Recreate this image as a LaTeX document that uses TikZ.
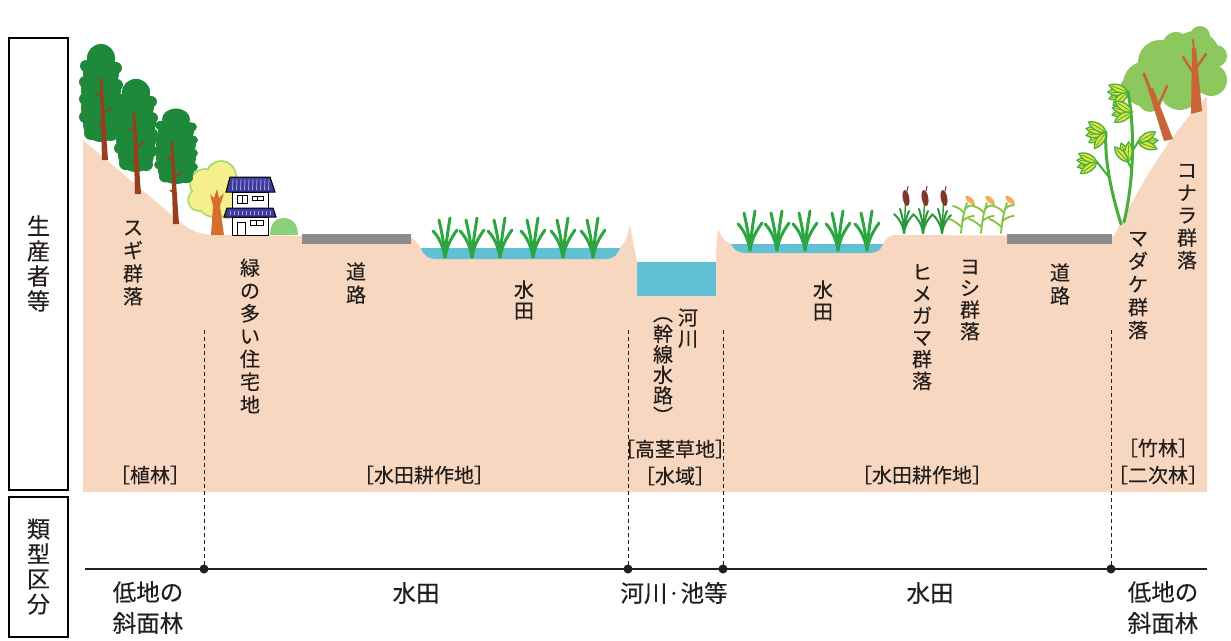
\documentclass[tikz,border=0pt]{standalone}
\usepackage{fontspec}
\setmainfont{Noto Sans CJK JP}[FakeBold=0.3]
\definecolor{ground}{RGB}{247,215,192}
\definecolor{water}{RGB}{98,192,212}
\definecolor{road}{RGB}{140,140,142}
\definecolor{ink}{RGB}{35,30,28}
\definecolor{cedar}{RGB}{30,137,58}
\definecolor{cedartrunk}{RGB}{150,62,30}
\definecolor{ytreefill}{RGB}{245,240,140}
\definecolor{ytreeedge}{RGB}{170,215,110}
\definecolor{ytrunk}{RGB}{214,110,45}
\definecolor{roofblue}{RGB}{60,60,160}
\definecolor{bush}{RGB}{140,208,120}
\definecolor{rice}{RGB}{45,165,65}
\definecolor{catgreen}{RGB}{40,150,60}
\definecolor{catbrown}{RGB}{130,55,40}
\definecolor{reedgreen}{RGB}{130,195,60}
\definecolor{plume}{RGB}{240,175,90}
\definecolor{bamgreen}{RGB}{70,175,55}
\definecolor{bamyellow}{RGB}{228,226,70}
\definecolor{oakleaf}{RGB}{141,200,95}
\definecolor{oaktrunk}{RGB}{200,100,55}
\newcommand\cjkstrut{\rule[-0.12em]{0pt}{1em}}
\begin{document}
\begin{tikzpicture}[x=1pt,y=-1pt,
  txt/.style={inner sep=0pt, text=ink, align=center,
    execute at begin node=\cjkstrut, execute at end node=\cjkstrut},
  vl/.style={txt, font=\fontsize{20}{#1}\selectfont},
  brk/.style={txt, font=\fontsize{20}{22}\selectfont},
  cat/.style={txt, font=\fontsize{23.5}{31}\selectfont},
  sidebox/.style={txt, draw=black, line width=1.8pt, minimum width=59pt,
    font=\fontsize{23}{25}\selectfont},
  dashline/.style={dashed, dash pattern=on 4pt off 3pt, line width=0.9pt, draw=ink},
  riceleaf/.style={draw=rice, line width=3pt, line cap=round},
  catleaf/.style={draw=catgreen, line width=2pt, line cap=round},
  reedleaf/.style={draw=reedgreen, line width=1.8pt, line cap=round},
  bamstem/.style={draw=bamgreen, line width=3pt, line cap=round},
  houseline/.style={draw=black, line width=1pt},
  rice/.pic={
    \draw[riceleaf] (0,0) .. controls (-2,-12) and (-7,-21) .. (-12,-26);
    \draw[riceleaf] (0,0) .. controls (-1,-15) and (-4,-28) .. (-6,-37);
    \draw[riceleaf] (0,0) .. controls (1,-14) and (3,-27) .. (5,-39);
    \draw[riceleaf] (0,0) .. controls (2,-12) and (7,-20) .. (12,-27);
  },
  cattail/.pic={
    \draw[catleaf] (0,0) .. controls (-1,-8) and (-5,-15) .. (-10,-19);
    \draw[catleaf] (0,0) .. controls (0,-10) and (-2,-18) .. (-4,-24);
    \draw[catleaf] (0,0) .. controls (1,-8) and (5,-14) .. (9,-18);
    \draw[catleaf] (0,0) .. controls (1,-10) and (3,-18) .. (5,-22);
    \draw[catleaf, line width=1.4pt] (0,0) -- (1.5,-30);
    \fill[catbrown, rotate around={10:(2,-35)}] (2,-35) ellipse (3.3 and 8);
    \draw[catbrown, line width=1pt] (3.2,-42) -- (4,-47);
  },
  reed/.pic={
    \draw[reedleaf] (0,0) .. controls (1,-12) and (3,-22) .. (6,-30);
    \draw[reedleaf] (0.5,-6) .. controls (-4,-10) and (-8,-13) .. (-12,-14);
    \draw[reedleaf] (1.5,-12) .. controls (5,-15) and (9,-17) .. (13,-17);
    \draw[reedleaf] (3,-20) .. controls (0,-24) and (-4,-26) .. (-8,-27);
    \draw[reedleaf] (4,-24) .. controls (7,-27) and (10,-28) .. (13,-28);
    \fill[plume, rotate around={-40:(9,-33)}] (9,-33) ellipse (6 and 2.6);
  },
  bleaf/.pic={
    \filldraw[fill=bamyellow, draw=bamgreen, line width=1.3pt]
      (0,0) .. controls (5,-5) and (14,-5) .. (20,0)
            .. controls (14,5) and (5,5) .. (0,0) -- cycle;
    \draw[bamgreen, line width=0.8pt] (2,0) -- (17,0);
  },
  cedarcrown/.pic={
    \foreach \cx/\cy/\r in {0/16/14, 0/31/18, 0/48/20, 0/66/20, 0/82/18,
        -15/24/6, 15/26/6, -16/40/6, 16/43/6, -16/57/6, 16/60/6,
        -16/75/6, 16/78/6, -10/91/7, 10/92/7, 0/94/6}
      \fill[cedar] (\cx,\cy) circle[radius=\r];
  },
  cedarstem/.pic={
    \fill[cedartrunk] (-1.2,35) -- (1.2,35) -- (7,117) -- (1,117) -- cycle;
    \draw[cedartrunk, line width=1.5pt] (2,55) -- (-5,51);
    \draw[cedartrunk, line width=1.5pt] (3,70) -- (10,65);
    \draw[cedartrunk, line width=1.5pt] (4.5,88) -- (-2,83);
  }
]
\useasboundingbox (0,0) rectangle (1231,640);

% ---------- ground profile ----------
\fill[ground] (83,492) -- (83,140) -- (180,222)
  .. controls (190,230) and (198,234) .. (212,235) -- (411,237)
  .. controls (415,240) and (418,244) .. (421,248) -- (620,248)
  .. controls (626,242) and (628,234) .. (630,224)
  .. controls (632,238) and (635,250) .. (637,262) -- (716,262)
  .. controls (716,248) and (717,238) .. (718,228)
  .. controls (721,237) and (725,242) .. (731,244) -- (883,244)
  .. controls (885,239) and (888,236) .. (894,235) -- (1114,236)
  -- (1120,224) .. controls (1140,188) and (1165,140) .. (1207,96)
  -- (1207,492) -- cycle;

% water: paddies and river
\fill[water] (421,248) .. controls (424,256) and (428,259) .. (437,259)
  -- (605,259) .. controls (614,259) and (618,254) .. (620,248) -- cycle;
\fill[water] (637,262) rectangle (716,296);
\fill[water] (731,244) .. controls (734,250) and (738,253) .. (746,253)
  -- (868,253) .. controls (877,253) and (881,250) .. (883,244) -- cycle;

% roads
\fill[road] (302,234) rectangle (411,244);
\fill[road] (1007,234) rectangle (1112,244);

% ---------- yellow broadleaf tree ----------
\foreach \cx/\cy/\r in {205/184/14, 221/176/14, 233/190/11, 214/200/16, 199/200/10, 228/205/12}
  \fill[ytreeedge] (\cx,\cy) circle[radius={\r+1.8}];
\foreach \cx/\cy/\r in {205/184/14, 221/176/14, 233/190/11, 214/200/16, 199/200/10, 228/205/12}
  \fill[ytreefill] (\cx,\cy) circle[radius=\r];
\fill[ytrunk] (211,235) -- (224,235) -- (220,206) -- (224,193) -- (219,198)
  -- (217,189) -- (214,198) -- (210,194) -- (213,206) -- cycle;

% ---------- cedar plantation ----------
\pic at (101,42) {cedarcrown};
\pic at (101,43) {cedarstem};
\pic[yscale=0.95] at (136,77) {cedarcrown};
\pic at (134,77) {cedarstem};
\pic[yscale=0.77] at (176,107) {cedarcrown};
\pic at (172,107) {cedarstem};

% ---------- house ----------
\fill[bush] (270,235) .. controls (270,222) and (277,218) .. (284,218)
  .. controls (292,218) and (298,224) .. (298,235) -- cycle;
\filldraw[houseline, fill=roofblue] (230,177) -- (270,177) -- (275,192) -- (226,192) -- cycle;
\foreach \i in {0,...,9}
  \draw[roofblue!45!white, line width=0.8pt] ({233+4*\i},179) -- ({232.5+4*\i},190);
\filldraw[houseline, fill=white] (232,192) rectangle (268,208);
\draw[houseline] (237,195) rectangle (247,203);
\draw[houseline] (242,195) -- (242,203);
\draw[houseline] (252,196) rectangle (263,200);
\draw[houseline] (257.5,196) -- (257.5,200);
\filldraw[houseline, fill=roofblue] (227,208) -- (273,208) -- (276,217) -- (224,217) -- cycle;
\foreach \i in {0,...,10}
  \draw[roofblue!45!white, line width=0.8pt] ({230+4*\i},210.5) -- ({230+4*\i},214.5);
\filldraw[houseline, fill=white] (232,217) rectangle (268,235);
\draw[houseline] (237,222) rectangle (245,235);
\draw[houseline] (250,220) rectangle (263,225);
\draw[houseline] (256.5,220) -- (256.5,225);

% ---------- rice ----------
\foreach \px in {445,472,500,533,563,593}
  \pic at (\px,257) {rice};
\foreach \px in {750,777,805,838,867}
  \pic at (\px,250) {rice};

% ---------- cattails and reeds ----------
\foreach \px in {904,923,942}
  \pic at (\px,233) {cattail};
\foreach \px in {961,981,1001}
  \pic at (\px,233) {reed};

% ---------- oak stand ----------
\foreach \cx/\cy/\r in {1146/84/23, 1160/62/22, 1195/56/25, 1211/80/16,
    1180/89/21, 1131/88/11, 1216/56/11, 1176/46/14, 1150/100/12, 1200/36/10}
  \fill[oakleaf] (\cx,\cy) circle[radius=\r];
\fill[oaktrunk] (1164,141) -- (1173,139) -- (1153,88) -- (1148,89) -- cycle;
\draw[oaktrunk, line width=3pt, line cap=round] (1151,92) -- (1144,74);
\draw[oaktrunk, line width=2.5pt, line cap=round] (1158,106) -- (1167,86);
\fill[oaktrunk] (1191,114) -- (1202,111) -- (1196,48) -- (1192,48) -- cycle;
\draw[oaktrunk, line width=2.5pt, line cap=round] (1194,74) -- (1183,57);
\draw[oaktrunk, line width=2.5pt, line cap=round] (1196,68) -- (1206,54);
\draw[oaktrunk, line width=2pt, line cap=round] (1194,50) -- (1193,40);

% ---------- bamboo ----------
\draw[bamstem] (1121,224) .. controls (1112,195) and (1104,160) .. (1106,132);
\draw[bamstem, line width=2pt] (1108,176) -- (1097,162);
\draw[bamstem] (1124,222) .. controls (1134,180) and (1135,130) .. (1128,92);
\draw[bamstem, line width=2pt] (1133,150) -- (1138,142);
\draw[bamstem, line width=2pt] (1132,170) -- (1128,162);
\foreach \lx/\ly/\la in {1128/92/200, 1128/92/180, 1128/92/222, 1128/92/160,
    1132/112/188, 1132/112/168, 1132/112/210, 1132/112/148,
    1106/132/212, 1106/132/190, 1106/132/170, 1106/132/235, 1106/132/150,
    1097/162/195, 1097/162/175, 1097/162/215, 1097/162/155,
    1138/142/5, 1138/142/-20, 1138/142/30,
    1128/162/110, 1128/162/88, 1128/162/132}
  \pic[rotate=\la] at (\lx,\ly) {bleaf};

% ---------- side boxes ----------
\node[sidebox, minimum height=452pt] (prodbox) at (38.5,264) {生\\産\\者\\等};
\node[sidebox, minimum height=140pt] (typebox) at (38.5,567) {類\\型\\区\\分};

% ---------- labels on the section ----------
\node[vl=23] (sugi) at (133,263.5) {ス\\ギ\\群\\落};
\node[vl=22.8] (jutaku) at (250,336.5) {緑\\の\\多\\い\\住\\宅\\地};
\node[vl=23] (doroL) at (356,283.5) {道\\路};
\node[vl=21] (suidenL) at (524,300.5) {水\\田};
\node[vl=21] (kasen) at (688,328.5) {河\\川};
\node[vl=20.5] (kansen) at (663,371.5) {︵\\幹\\線\\水\\路\\︶};
\node[vl=22] (suidenR) at (823,301) {水\\田};
\node[vl=21.8] (himegama) at (922,327.5) {ヒ\\メ\\ガ\\マ\\群\\落};
\node[vl=21.7] (yoshi) at (970,300.5) {ヨ\\シ\\群\\落};
\node[vl=23] (doroR) at (1060,284.5) {道\\路};
\node[vl=23] (madake) at (1138,286) {マ\\ダ\\ケ\\群\\落};
\node[vl=22.5] (konara) at (1187,217) {コ\\ナ\\ラ\\群\\落};

\node[brk] (shokurin) at (150,475) {［植林］};
\node[brk] (kousaL) at (424,475) {［水田耕作地］};
\node[brk] (koukei) at (675,449) {［高茎草地］};
\node[brk] (suiiki) at (675,476) {［水域］};
\node[brk] (kousaR) at (922,475) {［水田耕作地］};
\node[brk] (chikurin) at (1158,448) {［竹林］};
\node[brk] (nijirin) at (1158,475) {［二次林］};

% ---------- type division line ----------
\coordinate (lineL) at (85,569);
\coordinate (lineR) at (1207,569);
\draw[ink, line width=1.3pt] (lineL) -- (lineR);
\foreach \nm/\px in {d1/204, d2/628, d3/723, d4/1111} {
  \coordinate (\nm) at (\px,569);
  \coordinate (\nm top) at (\px,330);
  \draw[dashline] (\nm top) -- (\nm);
  \fill[ink] (\nm) circle[radius=4.5];
}

\node[cat] (slopeL) at (148,608) {低地の\\斜面林};
\node[cat] (paddyL) at (416,593) {水田};
\node[cat] (river) at (674,593) {河川·池等};
\node[cat] (paddyR) at (930,593) {水田};
\node[cat] (slopeR) at (1163,608) {低地の\\斜面林};
\end{tikzpicture}
\end{document}
